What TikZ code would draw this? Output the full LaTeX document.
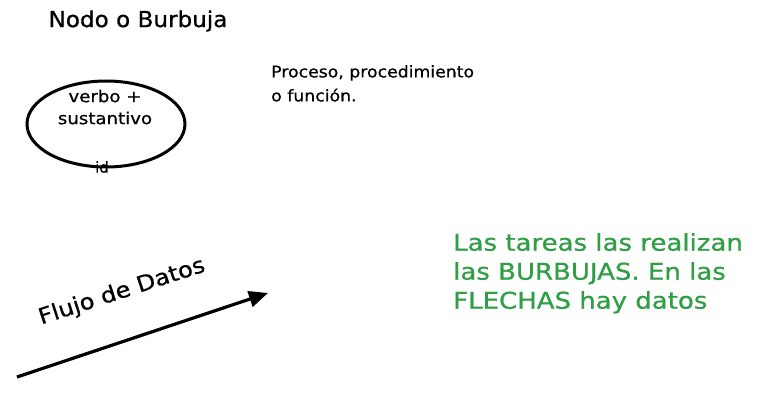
\documentclass[tikz,border=0pt]{standalone}
\usepackage{fontspec}
\setmainfont{DejaVu Sans}[FakeBold=0.7]
\usetikzlibrary{arrows.meta,shapes.geometric}
\definecolor{exgreen}{HTML}{2F9E44}
\tikzset{
  lbl/.style={inner sep=0pt, text=black},
  bubble/.style={draw=black, line width=3pt, ellipse},
  flow/.style={draw=black, line width=3.2pt, -{Triangle[length=19pt,width=16pt]}},
}
\begin{document}
\begin{tikzpicture}[x=1pt,y=-1pt]
\useasboundingbox (0,0) rectangle (763,405);
\node[lbl, xscale=1.05, font=\fontsize{22}{24}\selectfont] (title) at (138,21) {Nodo o Burbuja};
\node[bubble, minimum width=158pt, minimum height=86pt] (bub) at (106,124) {};
\node[lbl, xscale=1.1, font=\fontsize{16.5}{22}\selectfont, align=center] (vs) at (105,107) {verbo +\\sustantivo};
\node[lbl, font=\fontsize{15}{16}\selectfont] (id) at (102,167) {id};
\node[lbl, anchor=north west, xscale=1.08, font=\fontsize{16}{24}\selectfont, align=left] (proc) at (271,65) {Proceso, procedimiento\\o función.};
\coordinate (a0) at (17,377);
\coordinate (a1) at (268,293);
\draw[flow] (a0) -- (a1);
\node[lbl, rotate=18, xscale=1.1, font=\fontsize{22}{24}\selectfont] (fd) at (122,292) {Flujo de Datos};
\node[lbl, anchor=north west, xscale=1.13, text=exgreen, font=\fontsize{23}{29}\selectfont, align=left] (note) at (453,233) {Las tareas las realizan\\las BURBUJAS. En las\\FLECHAS hay datos};
\end{tikzpicture}
\end{document}
